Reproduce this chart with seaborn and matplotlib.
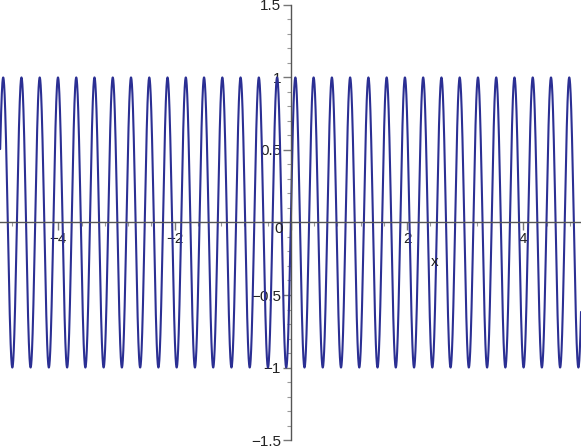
import numpy as np
import pandas as pd
import matplotlib
matplotlib.use("Agg")
import matplotlib.pyplot as plt
from matplotlib.ticker import MultipleLocator, FixedLocator
import seaborn as sns

# ---- data (function plot: y = sin(frequency * x) on [x_min, x_max]) ----
x_min, x_max = -5.0, 5.0
frequency = 20.0
n_samples = 6001
x_values = np.linspace(x_min, x_max, n_samples)
y_values = np.sin(frequency * x_values)

x_tick_values = [-4, -2, 0, 2, 4]
x_tick_labels = ["\u22124", "\u22122", "", "2", "4"]
y_tick_values = [-1.5, -1, -0.5, 0.5, 1, 1.5]
y_tick_labels = ["\u22121.5", "\u22121", "\u22120.5", "0.5", "1", "1.5"]

df = pd.DataFrame({"x": x_values, "y": y_values})

sns.set_style("white")
plt.rcParams["font.family"] = ["Liberation Sans", "DejaVu Sans"]

fig = plt.figure(figsize=(5.81, 4.47), dpi=100)
ax = fig.add_axes([0, 0, 1, 1])
ax.set_facecolor("white")

sns.lineplot(data=df, x="x", y="y", ax=ax, color="#2b2f93", linewidth=1.5,
             estimator=None, sort=False)

ax.set_xlim(-5.003, 4.993)
ax.set_ylim(-1.548, 1.534)

axis_color = "#555555"
for s in ["top", "right"]:
    ax.spines[s].set_visible(False)
ax.spines["left"].set_position(("data", 0))
ax.spines["bottom"].set_position(("data", 0))
ax.spines["left"].set_bounds(-1.5, 1.5)
ax.spines["left"].set_color(axis_color)
ax.spines["bottom"].set_color(axis_color)
ax.spines["left"].set_linewidth(1.0)
ax.spines["bottom"].set_linewidth(1.0)

ax.xaxis.set_major_locator(FixedLocator(x_tick_values))
ax.set_xticklabels(x_tick_labels)
ax.xaxis.set_minor_locator(MultipleLocator(0.4))
ax.yaxis.set_major_locator(FixedLocator(y_tick_values))
ax.set_yticklabels(y_tick_labels)
ax.yaxis.set_minor_locator(MultipleLocator(0.1))

ax.tick_params(axis="both", which="major", direction="out", length=6, width=1,
               color="#777777", labelsize=11, labelcolor="#222222")
ax.tick_params(axis="x", which="major", pad=1)
ax.tick_params(axis="y", which="major", pad=1)
ax.tick_params(axis="both", which="minor", direction="out", length=3, width=0.8,
               color="#999999")
ax.tick_params(axis="x", bottom=True, which="both")
ax.tick_params(axis="y", left=True, which="both")

ax.set_xlabel("")
ax.set_ylabel("")

ax.text(-0.205, 0.005, "0", ha="center", va="top", fontsize=11, color="#222222")
ax.text(2.48, -0.272, "x", ha="center", va="center", fontsize=11, color="#222222")

fig.savefig("out.png", dpi=100, facecolor="white")
